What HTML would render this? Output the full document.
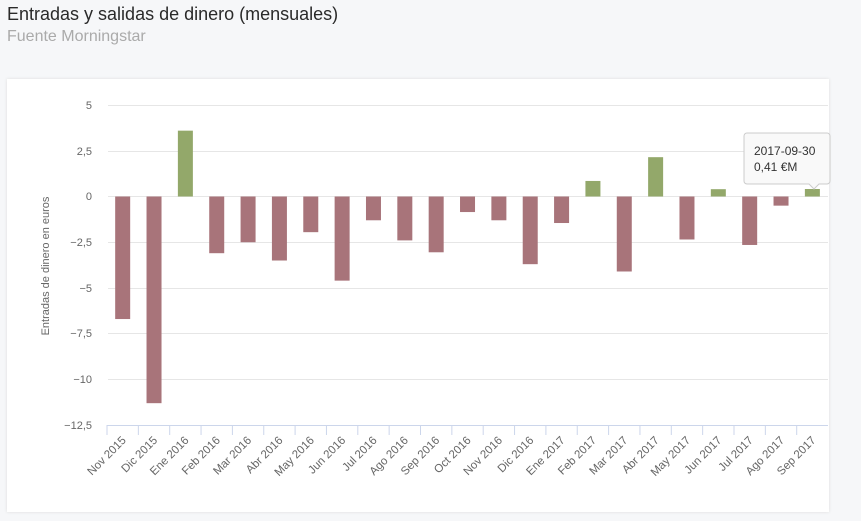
<!DOCTYPE html>
<html><head><meta charset="utf-8"><style>
body{margin:0;width:861px;height:521px;background:#f6f7f9;font-family:"Liberation Sans",sans-serif;overflow:hidden;position:relative}
.t{position:absolute;left:7px;top:4px;font-size:18px;color:#2a2a2a}
.s{position:absolute;left:7px;top:28px;font-size:16px;color:#aaa}
.card{position:absolute;left:7px;top:79px;width:822px;height:433px;background:#fff;box-shadow:0 0 3px #ddd}
svg{position:absolute;left:0;top:0}
</style></head><body>
<div class="t">Entradas y salidas de dinero (mensuales)</div>
<div class="s">Fuente Morningstar</div>
<div class="card"></div>
<svg width="861" height="521" font-family="Liberation Sans, sans-serif">
<g stroke="#e6e6e6" stroke-width="1">
<line x1="108" x2="828" y1="105.5" y2="105.5"/><line x1="108" x2="828" y1="151.5" y2="151.5"/>
<line x1="108" x2="828" y1="196.5" y2="196.5"/><line x1="108" x2="828" y1="242.5" y2="242.5"/>
<line x1="108" x2="828" y1="288.5" y2="288.5"/><line x1="108" x2="828" y1="333.5" y2="333.5"/>
<line x1="108" x2="828" y1="379.5" y2="379.5"/></g>
<line x1="107" x2="828" y1="425.5" y2="425.5" stroke="#ccd6eb"/>
<g font-size="11" fill="#666" text-anchor="end">
<text x="92" y="109">5</text><text x="92" y="155">2,5</text><text x="92" y="200">0</text>
<text x="92" y="246">−2,5</text><text x="92" y="292">−5</text><text x="92" y="337">−7,5</text>
<text x="92" y="383">−10</text><text x="92" y="429">−12,5</text></g>
<text transform="translate(49,266) rotate(-90)" font-size="11" fill="#666" text-anchor="middle">Entradas de dinero en euros</text>
<g id="g"></g>
<path d="M747 133h80a3 3 0 0 1 3 3v45a3 3 0 0 1-3 3h-8l-5 5-5-5h-62a3 3 0 0 1-3-3v-45a3 3 0 0 1 3-3z" fill="#f9f9f9" stroke="#ccc"/>
<text x="754" y="155" font-size="12" fill="#333">2017-09-30</text>
<text x="754" y="171" font-size="12" fill="#333">0,41 €M</text>
</svg>
<script>
var v=[-6.7,-11.3,3.6,-3.1,-2.5,-3.5,-1.95,-4.6,-1.3,-2.4,-3.05,-0.85,-1.3,-3.7,-1.45,0.85,-4.1,2.15,-2.35,0.4,-2.65,-0.5,0.41];
var l=["Nov 2015","Dic 2015","Ene 2016","Feb 2016","Mar 2016","Abr 2016","May 2016","Jun 2016","Jul 2016","Ago 2016","Sep 2016","Oct 2016","Nov 2016","Dic 2016","Ene 2017","Feb 2017","Mar 2017","Abr 2017","May 2017","Jun 2017","Jul 2017","Ago 2017","Sep 2017"];
var s="",w=31.35,x0=107,z=196.5,k=18.29;
for(var i=0;i<23;i++){var c=x0+w*(i+.5),h=Math.abs(v[i])*k,y=v[i]>0?z-h:z;
s+='<rect x="'+(c-7.5)+'" y="'+y+'" width="15" height="'+h+'" fill="'+(v[i]>0?'#93a86a':'#a8747a')+'"/>';
s+='<line x1="'+(x0+w*i)+'" x2="'+(x0+w*i)+'" y1="425" y2="435" stroke="#ccd6eb"/>';
s+='<text transform="translate('+(c+4)+',441) rotate(-45)" font-size="11.5" fill="#666" text-anchor="end">'+l[i]+'</text>';}
document.getElementById('g').innerHTML=s;
</script>
</body></html>
